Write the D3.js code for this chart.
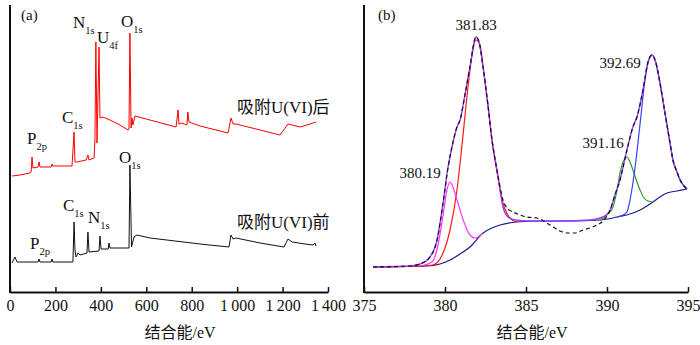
<!DOCTYPE html>
<html>
<head>
<meta charset="utf-8">
<script src="https://cdn.jsdelivr.net/npm/d3@7"></script>
<style>
  body { margin: 0; background: #fff; }
  text { font-family: "Liberation Serif", "Times New Roman", "Noto Sans CJK SC", serif; fill: #111; }
  .cjk { font-family: "Liberation Serif", "Noto Sans CJK SC", serif; }
</style>
</head>
<body>
<svg id="chart" width="700" height="345"></svg>
<script>
// (a) survey spectra: [binding energy eV, intensity a.u.]
var before = [[9,29],[22,35],[31,30],[123,30],[128,33],[132,30],[181,30],[185,33],[189,30],[277,30],[282,70],[286,42],[291,35],[299,39],[308,37],[339,39],[343,60],[348,40],[392,41],[396,56],[401,43],[432,43],[436,49],[440,44],[524,44],[528,127],[535,45],[546,55],[559,57],[616,54],[727,51],[837,48],[964,45],[973,57],[982,53],[995,54],[1101,49],[1206,45],[1224,53],[1242,50],[1299,48],[1334,47],[1343,49],[1347,46]];
var after = [[9,116],[44,117],[88,119],[93,120],[97,135],[101,124],[123,125],[128,130],[132,125],[181,125],[185,128],[189,126],[273,126],[282,160],[286,130],[295,130],[335,132],[343,137],[348,132],[370,134],[374,152],[378,250],[383,149],[387,192],[392,245],[396,174],[409,175],[440,172],[484,167],[520,162],[524,164],[528,259],[533,164],[537,174],[541,167],[550,176],[616,172],[731,165],[740,182],[744,168],[757,169],[779,167],[783,180],[788,170],[837,166],[960,159],[973,174],[982,168],[995,168],[1101,162],[1189,157],[1224,168],[1277,165],[1321,168],[1347,170]];
var ticksA = [0,200,400,600,800,1000,1200,1400];

// (b) U4f high-resolution spectrum and fitted components
var envelope = [[375.56,25],[377.84,26],[378.46,28],[379.07,35],[379.51,52],[379.88,89],[380.19,125],[380.43,145],[380.74,165],[380.93,172],[381.23,197],[381.54,225],[381.91,255],[382.10,250],[382.35,225],[382.65,187],[382.90,152],[383.21,122],[383.58,92],[383.89,83],[384.20,80],[384.63,77],[385.06,75],[385.68,74],[386.48,67],[387.10,61],[387.53,59],[388.02,59],[388.52,62],[389.26,66],[389.75,71],[390.19,82],[390.49,97],[390.80,112],[391.23,142],[391.60,165],[391.85,175],[392.22,202],[392.53,230],[392.78,237],[393.02,229],[393.27,209],[393.58,179],[393.89,149],[394.07,132],[394.32,120],[394.51,112],[394.94,103]];
var fitSum = [[375.56,25],[377.84,26],[378.46,28],[379.07,35],[379.51,52],[379.88,89],[380.19,125],[380.43,145],[380.74,165],[380.93,172],[381.23,197],[381.54,225],[381.91,255],[382.10,250],[382.35,225],[382.65,187],[382.90,152],[383.21,122],[383.58,85],[383.89,75],[384.32,72],[385.25,71],[387.10,71],[388.95,72],[389.57,74],[389.94,77],[390.19,82],[390.49,97],[390.80,112],[391.23,142],[391.60,165],[391.85,175],[392.22,202],[392.53,230],[392.78,237],[393.02,229],[393.27,209],[393.58,179],[393.89,149],[394.07,132],[394.32,120],[394.51,112],[394.94,103]];
var background = [[375.56,25],[378.89,26],[379.69,28],[380.31,32],[380.93,38],[381.54,45],[382.35,59],[382.90,64],[383.40,67],[384.44,70],[385.86,71],[387.72,71],[389.57,72],[390.62,75],[391.42,78],[392.04,82],[392.84,90],[393.27,95],[393.70,99],[394.32,101],[394.94,103]];
var peak38183 = [[375.56,25],[378.46,26],[379.26,27],[379.88,39],[380.31,62],[380.74,102],[381.05,147],[381.42,205],[381.67,237],[381.91,252],[382.16,247],[382.35,225],[382.65,187],[382.90,152],[383.21,120],[383.58,89],[384.01,74],[384.44,70]];
var peak38019 = [[378.46,26],[379.20,30],[379.57,47],[379.88,77],[380.12,102],[380.31,110],[380.49,105],[380.74,92],[380.93,82],[381.17,70],[381.36,62],[381.60,56],[381.85,54],[382.04,55],[382.28,58]];
var peak39116 = [[389.57,72],[390.00,77],[390.37,85],[390.62,102],[390.80,119],[391.05,132],[391.23,135],[391.42,130],[391.60,122],[391.85,110],[392.04,102],[392.28,94],[392.53,91],[392.78,90]];
var peak39269 = [[390.62,75],[390.99,77],[391.23,80],[391.42,92],[391.60,109],[391.79,132],[391.91,149],[392.10,177],[392.28,204],[392.53,229],[392.78,237],[393.02,229],[393.27,209],[393.58,179],[393.89,149],[394.07,132],[394.32,120],[394.51,112],[394.94,103]];
var ticksB = [375,380,385,390,395];

var svg = d3.select("#chart");

var xA = d3.scaleLinear().domain([0,1400]).range([10,328]);
var xB = d3.scaleLinear().domain([375,395]).range([364,688]);
var y = d3.scaleLinear().domain([0,287]).range([292,5]);

function drawLine(xs, data, color, width, dash, curve) {
    var line = d3.line()
        .x(function(d) { return xs(d[0]); })
        .y(function(d) { return y(d[1]); })
        .curve(curve || d3.curveLinear);
    var p = svg.append("path")
        .datum(data)
        .attr("d", line)
        .attr("fill", "none")
        .attr("stroke", color)
        .attr("stroke-width", width)
        .attr("stroke-linejoin", "round");
    if (dash) p.attr("stroke-dasharray", dash);
}

function label(x, yy, main, sub, size, color) {
    var t = svg.append("text")
        .attr("x", x)
        .attr("y", yy)
        .style("font-size", size + "px")
        .attr("fill", color || "#111");
    t.append("tspan").text(main);
    if (sub) {
        t.append("tspan")
            .attr("dy", size * 0.35)
            .style("font-size", (size * 0.62) + "px")
            .text(sub);
    }
}

function axes(xs, ticks, fmt, x0, titleX) {
    var ax = svg.append("g")
        .attr("transform", "translate(0,292)")
        .call(d3.axisBottom(xs).tickValues(ticks).tickSize(-5).tickSizeOuter(0).tickPadding(8).tickFormat(fmt));
    ax.select(".domain").attr("stroke", "#111").attr("stroke-width", 2);
    ax.selectAll(".tick line").attr("stroke", "#111").attr("stroke-width", 1.5);
    ax.selectAll(".tick text")
        .attr("fill", "#111")
        .style("font-size", "16px")
        .style("font-family", "Liberation Serif, serif");
    svg.append("line")
        .attr("x1", x0).attr("x2", x0)
        .attr("y1", 5).attr("y2", 293)
        .attr("stroke", "#111").attr("stroke-width", 2);
    svg.append("text")
        .attr("class", "cjk")
        .attr("x", titleX)
        .attr("y", 338)
        .attr("text-anchor", "middle")
        .style("font-size", "16px")
        .text("结合能/eV");
}

// panel (a)
axes(xA, ticksA, function(d) {
    var s = String(d);
    return s.length > 3 ? s.slice(0, s.length - 3) + "\u2009" + s.slice(-3) : s;
}, 10, 180);
drawLine(xA, before, "#111", 1);
drawLine(xA, after, "#f00", 1);

label(21, 20, "(a)", null, 15);
label(73, 28, "N", "1s", 17);
label(97, 43, "U", "4f", 17);
label(121, 27, "O", "1s", 17);
label(62, 123, "C", "1s", 17);
label(27, 144, "P", "2p", 17);
label(119, 163, "O", "1s", 17);
label(63, 211, "C", "1s", 17);
label(88, 223, "N", "1s", 17);
label(30, 249, "P", "2p", 17);
svg.append("text").attr("class", "cjk").attr("x", 237).attr("y", 113)
    .style("font-size", "17px").text("吸附U(VI)后");
svg.append("text").attr("class", "cjk").attr("x", 237).attr("y", 228)
    .style("font-size", "17px").text("吸附U(VI)前");

// panel (b)
axes(xB, ticksB, d3.format("d"), 364, 532);
var smooth = d3.curveMonotoneX;
drawLine(xB, background, "#1a1a8c", 1.2, null, smooth);
drawLine(xB, peak38183, "#ff1a1a", 1.2, null, smooth);
drawLine(xB, peak38019, "#ff33ff", 1.2, null, smooth);
drawLine(xB, peak39116, "#2e9a2e", 1.2, null, smooth);
drawLine(xB, peak39269, "#3340ff", 1.2, null, smooth);
drawLine(xB, fitSum, "#9b3dff", 1.4, null, smooth);
drawLine(xB, envelope, "#111", 1.2, "4,3", smooth);

label(378, 20, "(b)", null, 15);
svg.append("text").attr("x", 476).attr("y", 30).attr("text-anchor", "middle").style("font-size", "15px").text("381.83");
svg.append("text").attr("x", 620).attr("y", 68).attr("text-anchor", "middle").style("font-size", "15px").text("392.69");
svg.append("text").attr("x", 603).attr("y", 148).attr("text-anchor", "middle").style("font-size", "15px").text("391.16");
svg.append("text").attr("x", 420).attr("y", 178).attr("text-anchor", "middle").style("font-size", "15px").text("380.19");
</script>
</body>
</html>
